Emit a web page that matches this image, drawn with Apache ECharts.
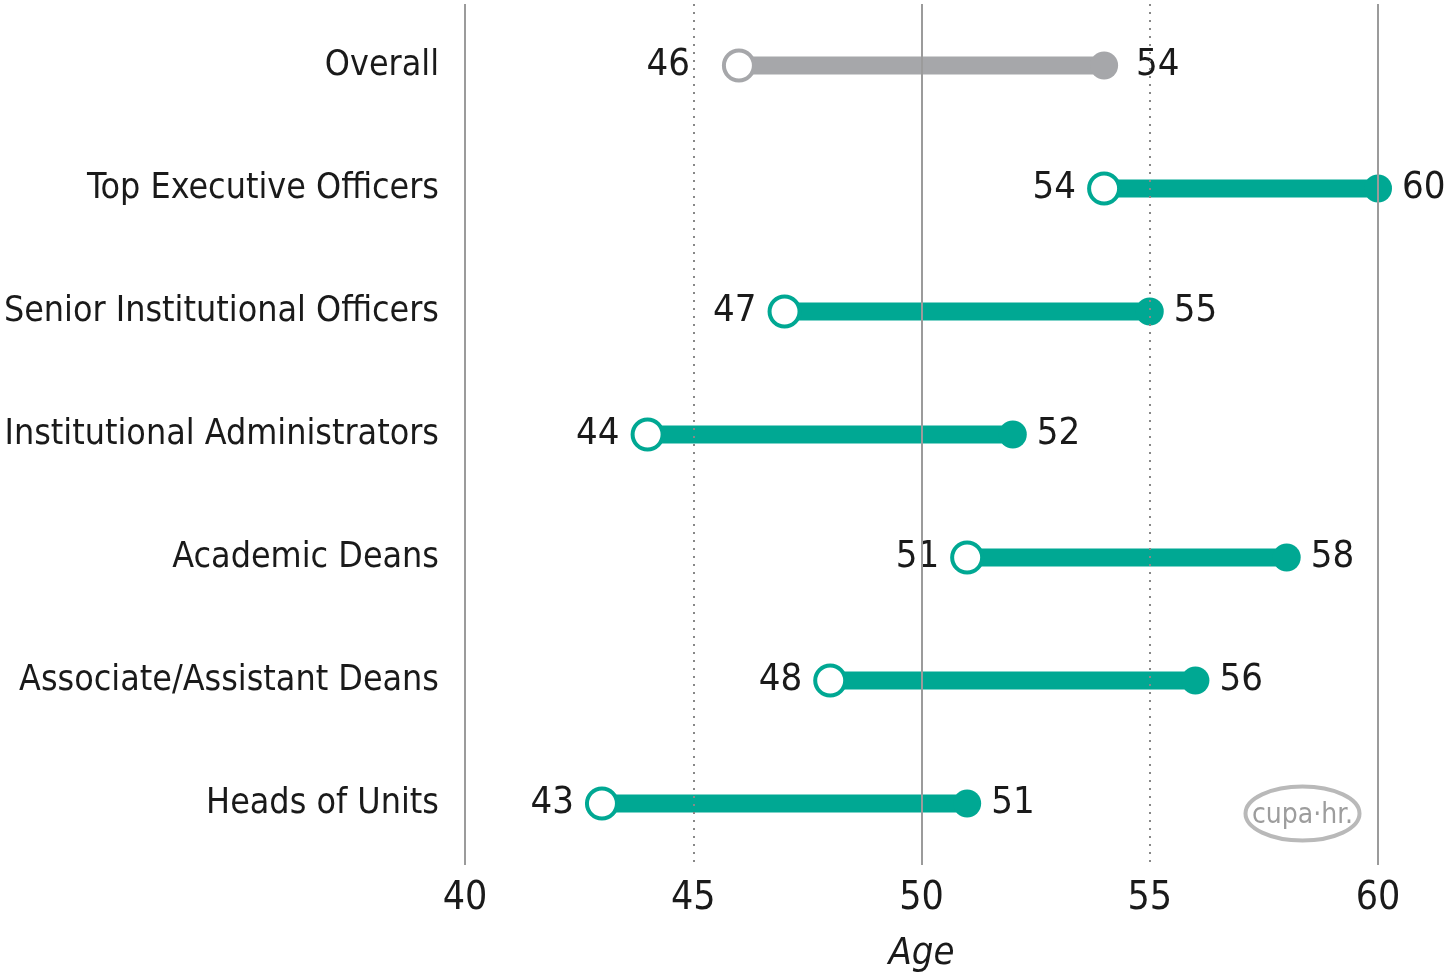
<!DOCTYPE html>
<html>
<head>
<meta charset="utf-8">
<script src="https://cdn.jsdelivr.net/npm/echarts@6/dist/echarts.min.js"></script>
<style>
  html, body { margin: 0; padding: 0; background: #fff; }
  #main { width: 1446px; height: 979px; }
</style>
</head>
<body>
<div id="main"></div>
<script>
var categories = ['Overall', 'Top Executive Officers', 'Senior Institutional Officers',
  'Institutional Administrators', 'Academic Deans', 'Associate/Assistant Deans', 'Heads of Units'];
var lowAges = [46, 54, 47, 44, 51, 48, 43];
var highAges = [54, 60, 55, 52, 58, 56, 51];
var axisTicks = [40, 45, 50, 55, 60];

var teal = '#00a893';
var grey = '#a6a7aa';
var ink = '#1a1a1a';
var font = '"Liberation Sans Narrow", "DejaVu Sans Condensed", sans-serif';

function rowColor(i) { return i === 0 ? grey : teal; }

var myChart = echarts.init(document.getElementById('main'));

var gridMarks = axisTicks.map(function (t) {
    var dotted = (t % 10) !== 0;
    return {
        xAxis: t,
        lineStyle: dotted
            ? { color: '#888', width: 2, type: [2, 6] }
            : { color: '#9b9b9b', width: 2, type: 'solid' }
    };
});

var option = {
    animation: false,
    grid: { left: 465, right: 68, top: 4, bottom: 114, outerBoundsMode: 'none', containLabel: false },
    xAxis: {
        type: 'value',
        min: 40,
        max: 60,
        interval: 5,
        name: 'Age',
        nameLocation: 'middle',
        nameGap: 70,
        nameTextStyle: { fontFamily: font, fontSize: 38, fontStyle: 'italic', color: ink },
        axisLine: { show: false },
        axisTick: { show: false },
        splitLine: { show: false },
        axisLabel: { fontFamily: font, fontSize: 39, color: ink, margin: 14 }
    },
    yAxis: {
        type: 'category',
        data: categories,
        inverse: true,
        axisLine: { show: false },
        axisTick: { show: false },
        axisLabel: { fontFamily: font, fontSize: 35.5, color: ink, margin: 26 }
    },
    series: [
        {
            type: 'custom',
            data: categories.map(function (c, i) { return [lowAges[i], highAges[i], i]; }),
            renderItem: function (params, api) {
                var a = api.coord([api.value(0), api.value(2)]);
                var b = api.coord([api.value(1), api.value(2)]);
                return {
                    type: 'line',
                    shape: { x1: a[0], y1: a[1], x2: b[0], y2: b[1] },
                    style: { stroke: rowColor(params.dataIndex), lineWidth: 18 }
                };
            },
            z: 2
        },
        {
            type: 'scatter',
            symbolSize: 28,
            itemStyle: { opacity: 1 },
            data: highAges.map(function (v, i) {
                return {
                    value: [v, i],
                    itemStyle: { color: rowColor(i), opacity: 1 },
                    label: { distance: i === 0 ? 18 : 10 }
                };
            }),
            label: {
                show: true,
                position: 'right',
                fontFamily: font,
                fontSize: 38,
                color: ink,
                formatter: function (p) { return p.value[0]; }
            },
            markLine: {
                silent: true,
                symbol: 'none',
                label: { show: false },
                data: gridMarks
            },
            z: 3
        },
        {
            type: 'scatter',
            symbolSize: 30,
            itemStyle: { opacity: 1 },
            data: lowAges.map(function (v, i) {
                return {
                    value: [v, i],
                    itemStyle: { color: '#fff', borderColor: rowColor(i), borderWidth: 4, opacity: 1 },
                    label: { distance: i === 0 ? 32 : 11 }
                };
            }),
            label: {
                show: true,
                position: 'left',
                fontFamily: font,
                fontSize: 38,
                color: ink,
                formatter: function (p) { return p.value[0]; }
            },
            z: 4
        }
    ],
    graphic: [
        {
            type: 'group',
            left: 1243,
            top: 784,
            children: [
                {
                    type: 'ellipse',
                    shape: { cx: 57, cy: 28, rx: 57, ry: 27 },
                    style: { fill: 'none', stroke: '#b9b9b9', lineWidth: 4 }
                },
                {
                    type: 'text',
                    style: {
                        x: 57, y: 30, text: 'cupa·hr.',
                        fill: '#9d9d9d', fontFamily: font, fontSize: 28,
                        align: 'center', verticalAlign: 'middle'
                    }
                }
            ]
        }
    ]
};
myChart.setOption(option);
</script>
</body>
</html>
